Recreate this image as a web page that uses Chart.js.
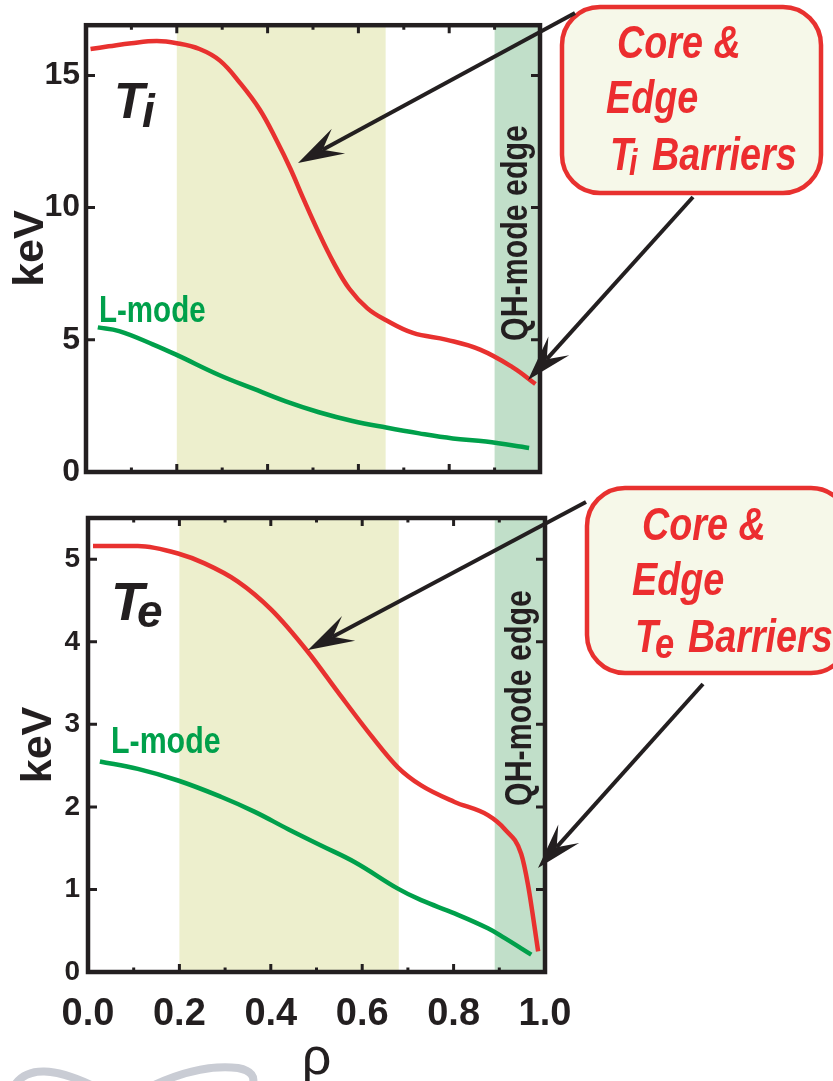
<!DOCTYPE html>
<html>
<head>
<meta charset="utf-8">
<script src="https://cdn.jsdelivr.net/npm/chart.js@4/dist/chart.umd.min.js"></script>
<style>
  html, body { margin: 0; padding: 0; background: #ffffff; }
  #wrap { position: relative; width: 833px; height: 1081px; overflow: hidden; background: #ffffff; }
  #ti { position: absolute; left: 0; top: 0; }
  #te { position: absolute; left: 0; top: 480px; }
</style>
</head>
<body>
<div id="wrap">
  <canvas id="ti" width="833" height="500"></canvas>
  <canvas id="te" width="833" height="601"></canvas>
</div>
<script>
// ---- tick values ----
const xTicks = [0, 0.2, 0.4, 0.6, 0.8, 1.0];
const xMinorTicks = [0.1, 0.2, 0.3, 0.4, 0.5, 0.6, 0.7, 0.8, 0.9];
const tiTicks = [0, 5, 10, 15];
const teTicks = [0, 1, 2, 3, 4, 5];

// ---- ion temperature (keV) vs rho ----
const tiRhoQH = [0.01, 0.05, 0.10, 0.156, 0.20, 0.25, 0.295, 0.34, 0.383, 0.421, 0.45, 0.478, 0.51, 0.545, 0.58, 0.62, 0.66, 0.72, 0.795, 0.868, 0.94, 0.99];
const tiQH    = [16.0, 16.1, 16.22, 16.3, 16.22, 16.0, 15.56, 14.7, 13.7, 12.5, 11.48, 10.37, 9.15, 7.93, 6.93, 6.19, 5.75, 5.26, 5.0, 4.63, 3.96, 3.33];
const tiRhoL  = [0.026, 0.073, 0.147, 0.202, 0.293, 0.367, 0.44, 0.513, 0.587, 0.661, 0.734, 0.808, 0.881, 0.976];
const tiL     = [5.47, 5.33, 4.83, 4.41, 3.67, 3.16, 2.67, 2.26, 1.93, 1.68, 1.46, 1.27, 1.15, 0.91];

// ---- electron temperature (keV) vs rho ----
const teRhoQH = [0.011, 0.109, 0.197, 0.255, 0.328, 0.401, 0.481, 0.547, 0.62, 0.678, 0.729, 0.802, 0.875, 0.912, 0.948, 0.963, 0.985];
const teQH    = [5.16, 5.16, 5.07, 4.95, 4.73, 4.39, 3.88, 3.39, 2.86, 2.48, 2.26, 2.06, 1.90, 1.73, 1.43, 1.05, 0.25];
const teRhoL  = [0.026, 0.109, 0.197, 0.292, 0.365, 0.438, 0.511, 0.584, 0.678, 0.729, 0.802, 0.875, 0.912, 0.97];
const teL     = [2.55, 2.46, 2.32, 2.12, 1.94, 1.73, 1.53, 1.33, 1.01, 0.87, 0.71, 0.53, 0.41, 0.21];

// ---- shaded rho ranges: core barrier region, QH-mode edge ----
const tiCoreBand = [0.2, 0.66];
const tiEdgeBand = [0.9, 1.0];
const teCoreBand = [0.2, 0.68];
const teEdgeBand = [0.89, 1.0];

// ---- colours ----
const RED = '#e8312f';
const GREEN = '#00a04b';
const INK = '#231f20';
const CORE_FILL = '#edefcd';
const EDGE_FILL = '#c1dfc9';

// Use a narrow sans face when present, otherwise squeeze the regular one.
const probe = document.createElement('canvas').getContext('2d');
function probeWidth(fam) {
  probe.font = 'bold 40px ' + fam;
  return probe.measureText('Barriers 0.0 L-mode').width;
}
const HAS_NARROW = probeWidth('"Liberation Sans Narrow", "Liberation Sans"') < 0.9 * probeWidth('"Liberation Sans"');
const NARROW = HAS_NARROW ? '"Liberation Sans Narrow", "Liberation Sans", sans-serif' : '"Liberation Sans", Arial, sans-serif';
const SQUEEZE = HAS_NARROW ? 1 : 0.82;
const SANS = '"Liberation Sans", Arial, sans-serif';

function text(ctx, s, x, y, o) {
  ctx.save();
  ctx.translate(x, y);
  if (o.rot) ctx.rotate(o.rot);
  const narrow = o.narrow !== false;
  ctx.scale(narrow ? SQUEEZE : 1, 1);
  ctx.font = (o.style || 'normal') + ' ' + (o.weight || 'bold') + ' ' + o.size + 'px ' + (narrow ? NARROW : SANS);
  ctx.fillStyle = o.color || INK;
  ctx.textAlign = o.align || 'left';
  ctx.textBaseline = 'alphabetic';
  ctx.fillText(s, 0, 0);
  ctx.restore();
}

function arrow(ctx, x0, y0, x1, y1) {
  const head = 46, half = 14, notch = 28;
  const dx = x1 - x0, dy = y1 - y0, L = Math.hypot(dx, dy);
  const ux = dx / L, uy = dy / L, nx = -uy, ny = ux;
  ctx.save();
  ctx.strokeStyle = INK; ctx.fillStyle = INK; ctx.lineWidth = 4;
  ctx.beginPath();
  ctx.moveTo(x0, y0);
  ctx.lineTo(x1 - ux * notch, y1 - uy * notch);
  ctx.stroke();
  ctx.beginPath();
  ctx.moveTo(x1, y1);
  ctx.lineTo(x1 - ux * head + nx * half, y1 - uy * head + ny * half);
  ctx.lineTo(x1 - ux * notch, y1 - uy * notch);
  ctx.lineTo(x1 - ux * head - nx * half, y1 - uy * head - ny * half);
  ctx.closePath();
  ctx.fill();
  ctx.restore();
}

function calloutBox(ctx, x, y, w, h, sym, sub, lines, subSize) {
  ctx.save();
  ctx.beginPath();
  ctx.roundRect(x, y, w, h, 38);
  ctx.fillStyle = '#f6f8e9';
  ctx.fill();
  ctx.lineWidth = 4.5;
  ctx.strokeStyle = RED;
  ctx.stroke();
  ctx.restore();
  const o = { size: 46, style: 'italic', color: '#ec2d2f' };
  text(ctx, 'Core &', lines[0][0], lines[0][1], o);
  text(ctx, 'Edge', lines[1][0], lines[1][1], o);
  text(ctx, sym, lines[2][0], lines[2][1], o);
  text(ctx, sub, lines[3][0], lines[3][1], Object.assign({}, o, { size: subSize }));
  text(ctx, 'Barriers', lines[4][0], lines[4][1], o);
}

function series(rho, val) {
  return rho.map((r, i) => ({ x: r, y: val[i] }));
}

function panelPlugin(spec) {
  return {
    id: 'panelDecor',
    beforeDatasetsDraw(chart) {
      const { ctx, chartArea: a, scales: { x } } = chart;
      ctx.save();
      const c0 = x.getPixelForValue(spec.core[0]), c1 = x.getPixelForValue(spec.core[1]);
      const e0 = x.getPixelForValue(spec.edge[0]), e1 = x.getPixelForValue(spec.edge[1]);
      ctx.fillStyle = CORE_FILL;
      ctx.fillRect(c0, a.top, c1 - c0, a.bottom - a.top);
      ctx.fillStyle = EDGE_FILL;
      ctx.fillRect(e0, a.top, e1 - e0, a.bottom - a.top);
      ctx.restore();
      // rotated band label
      text(ctx, 'QH-mode edge', spec.qh[0], spec.qh[1], { size: 37, weight: 'bold', align: 'center', rot: -Math.PI / 2 });
    },
    afterDatasetsDraw(chart) {
      const { ctx, chartArea: a, scales: { x, y } } = chart;
      ctx.save();
      ctx.strokeStyle = INK;
      // inward tick marks on all four sides
      ctx.lineWidth = 3;
      ctx.beginPath();
      for (const v of xMinorTicks) {
        const px = x.getPixelForValue(v);
        const len = Math.round(v * 10) % 2 === 0 ? 8 : 4.5;
        ctx.moveTo(px, a.top); ctx.lineTo(px, a.top + len);
        ctx.moveTo(px, a.bottom); ctx.lineTo(px, a.bottom - len);
      }
      for (const v of spec.yTicks) {
        if (v <= y.min || v >= y.max) continue;
        const py = y.getPixelForValue(v);
        ctx.moveTo(a.left, py); ctx.lineTo(a.left + 9, py);
        ctx.moveTo(a.right, py); ctx.lineTo(a.right - 9, py);
      }
      ctx.stroke();
      // frame
      ctx.lineWidth = 4.5;
      ctx.strokeRect(a.left, a.top, a.right - a.left, a.bottom - a.top);
      ctx.restore();
      spec.annotate(ctx, chart);
    }
  };
}

function makePanel(id, spec) {
  return new Chart(document.getElementById(id), {
    type: 'scatter',
    data: {
      datasets: [
        { data: series(spec.rhoQH, spec.qhVals), borderColor: RED, borderWidth: 4.5, showLine: true, pointRadius: 0,
          tension: 0.4, cubicInterpolationMode: spec.qhMode },
        { data: series(spec.rhoL, spec.lVals), borderColor: GREEN, borderWidth: 4.5, showLine: true, pointRadius: 0, tension: 0.4 }
      ]
    },
    options: {
      responsive: false,
      animation: false,
      events: [],
      layout: { padding: spec.padding },
      plugins: { legend: { display: false }, tooltip: { enabled: false } },
      scales: {
        x: {
          type: 'linear', min: 0, max: 1,
          display: spec.showX,
          afterFit: s => { s.height = spec.xHeight; },
          afterBuildTicks: s => { s.ticks = xTicks.map(v => ({ value: v })); },
          grid: { display: false, drawTicks: false },
          border: { display: false },
          ticks: {
            padding: 20,
            color: INK,
            font: { family: NARROW, size: HAS_NARROW ? 45 : 38, weight: 'bold' },
            callback: v => Number(v).toFixed(1)
          },
          title: {
            display: true, text: 'ρ', color: INK,
            font: { family: SANS, size: 52, weight: 'normal' },
            padding: { top: 0, bottom: -10 }
          }
        },
        y: {
          type: 'linear', min: 0, max: spec.yMax,
          afterFit: s => { s.width = spec.yWidth; },
          afterBuildTicks: s => { s.ticks = spec.yTicks.map(v => ({ value: v })); },
          grid: { display: false, drawTicks: false },
          border: { display: false },
          ticks: {
            padding: spec.yPad,
            color: INK,
            font: { family: SANS, size: spec.yFont, weight: 'bold' },
            callback: v => String(v)
          },
          title: {
            display: true, text: 'keV', color: INK,
            font: { family: NARROW, size: 43, weight: 'bold' },
            padding: { top: spec.titlePad, bottom: 0 }
          }
        }
      }
    },
    plugins: [panelPlugin(spec)]
  });
}

// ---- T_i panel ----
makePanel('ti', {
  rhoQH: tiRhoQH, qhVals: tiQH, rhoL: tiRhoL, lVals: tiL, qhMode: 'default',
  core: tiCoreBand, edge: tiEdgeBand,
  yTicks: tiTicks, yMax: 16.9, yFont: 32, yPad: 6, yWidth: 86, titlePad: 5,
  showX: false, xHeight: 0,
  padding: { left: 0, top: 20, right: 293, bottom: 28 },
  qh: [527, 233],
  annotate(ctx) {
    text(ctx, 'T', 114, 118, { size: 50, style: 'italic', narrow: false });
    text(ctx, 'i', 142, 127, { size: 46, style: 'italic', narrow: false });
    text(ctx, 'L-mode', 99, 322, { size: 36, color: GREEN });
    calloutBox(ctx, 562, 7, 259, 186, 'T', 'i',
      [[617, 58], [606, 113], [610, 170], [629, 175], [652, 170]], 37);
    arrow(ctx, 575, 13, 298, 163);
    arrow(ctx, 693, 197, 528, 380);
  }
});

// ---- T_e panel (canvas starts 480 px down the page) ----
makePanel('te', {
  rhoQH: teRhoQH, qhVals: teQH, rhoL: teRhoL, lVals: teL, qhMode: 'monotone',
  core: teCoreBand, edge: teEdgeBand,
  yTicks: teTicks, yMax: 5.5, yFont: 28, yPad: 8, yWidth: 88, titlePad: 13,
  showX: true, xHeight: 109,
  padding: { left: 0, top: 38, right: 288, bottom: 0 },
  qh: [531, 218],
  annotate(ctx) {
    text(ctx, 'T', 111, 140, { size: 54, style: 'italic', narrow: false });
    text(ctx, 'e', 137, 147, { size: 46, style: 'italic', narrow: false });
    text(ctx, 'L-mode', 111, 273, { size: 37, color: GREEN });
    calloutBox(ctx, 587, 8, 262, 185, 'T', 'e',
      [[642, 60], [632, 115], [635, 172], [655, 178], [688, 172]], 42);
    arrow(ctx, 586, 22, 308, 170);
    arrow(ctx, 703, 204, 538, 388);
    // light grey emblem strokes at the lower left corner
    ctx.save();
    ctx.strokeStyle = '#c9ccd4';
    ctx.lineWidth = 8;
    ctx.lineCap = 'round';
    ctx.beginPath();
    ctx.moveTo(12, 610);
    ctx.quadraticCurveTo(30, 572, 105, 612);
    ctx.stroke();
    ctx.beginPath();
    ctx.moveTo(140, 612);
    ctx.quadraticCurveTo(195, 583, 238, 588);
    ctx.quadraticCurveTo(258, 592, 252, 606);
    ctx.stroke();
    ctx.restore();
  }
});
</script>
</body>
</html>
